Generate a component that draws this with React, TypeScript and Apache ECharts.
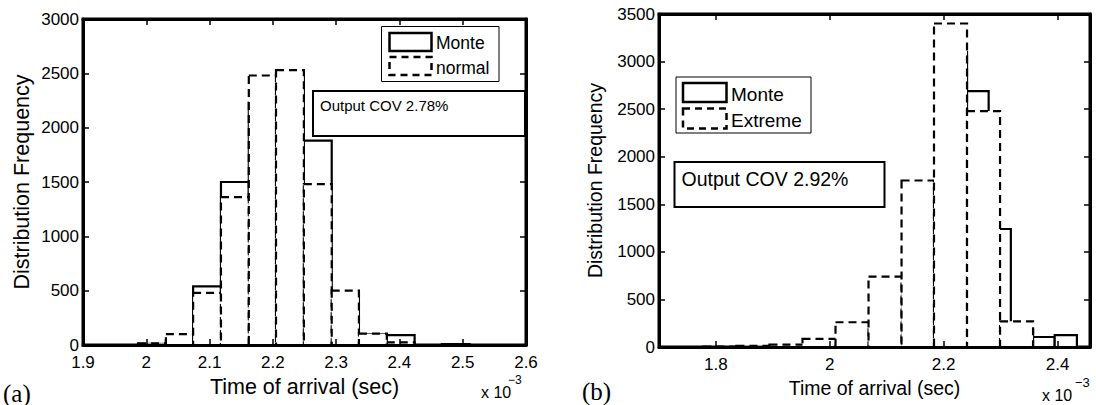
import React, { useEffect, useRef } from "react";
import * as echarts from "echarts";

// ---------- data (time in units of 1e-3 s) ----------
const leftEdges = [1.987, 2.031, 2.074, 2.118, 2.162, 2.205, 2.249, 2.293, 2.336, 2.38, 2.424, 2.467, 2.511];
const leftMonte = [10, 40, 540, 1500, 2230, 2500, 1880, 480, 100, 90, 0, 8];
const leftNormal = [15, 100, 480, 1360, 2480, 2530, 1480, 500, 105, 25, 0, 0];

const rightExtremeEdges = [1.778, 1.836, 1.894, 1.952, 2.01, 2.068, 2.126, 2.183, 2.241, 2.299, 2.357];
const rightExtreme = [5, 12, 25, 85, 260, 740, 1750, 3400, 2480, 270];
const rightMonteEdges = [2.047, 2.086, 2.125, 2.163, 2.202, 2.241, 2.279, 2.318, 2.357, 2.395, 2.434];
const rightMonte = [60, 400, 650, 1650, 3100, 2690, 1240, 180, 105, 125];

const leftXTicks = [1.9, 2, 2.1, 2.2, 2.3, 2.4, 2.5, 2.6];
const rightXTicks = [1.8, 2, 2.2, 2.4];

const FONT = "'Liberation Sans', Arial, Helvetica, sans-serif";
const AXIS_W = 3;

function bins(edges: number[], vals: number[]) {
  return vals.map((v, i) => [edges[i], edges[i + 1], v]);
}

function histSeries(data: number[][], xi: number, yi: number, dashed: boolean, z: number) {
  return {
    type: "custom",
    xAxisIndex: xi,
    yAxisIndex: yi,
    z,
    encode: { x: [0, 1], y: 2 },
    data,
    renderItem: (params: any, api: any) => {
      const p0 = api.coord([api.value(0), 0]);
      const p1 = api.coord([api.value(1), api.value(2)]);
      return {
        type: "rect",
        shape: { x: p0[0], y: p1[1], width: p1[0] - p0[0], height: p0[1] - p1[1] },
        style: {
          fill: "#fff",
          stroke: "#000",
          lineWidth: 2.2,
          lineDash: dashed ? [8, 5] : null,
        },
      };
    },
  };
}

function xAxes(grid: number, min: number, max: number, ticks: number[], name: string, nameSize: number) {
  const fmt = (v: number) => String(Math.round(v * 10) / 10);
  return [
    {
      type: "value", gridIndex: grid, position: "bottom", min, max, z: 10,
      splitLine: { show: false },
      axisLine: { show: true, onZero: false, lineStyle: { color: "#000", width: AXIS_W } },
      axisTick: { show: true, inside: true, length: 6, customValues: ticks, lineStyle: { color: "#000", width: 1.5 } },
      axisLabel: { show: true, customValues: ticks, formatter: fmt, color: "#000", fontSize: 17, fontFamily: FONT, margin: 9 },
      name, nameLocation: "middle", nameGap: 27,
      nameTextStyle: { color: "#000", fontSize: nameSize, fontFamily: FONT },
    },
    {
      type: "value", gridIndex: grid, position: "top", min, max, z: 10,
      splitLine: { show: false },
      axisLine: { show: true, onZero: false, lineStyle: { color: "#000", width: AXIS_W } },
      axisTick: { show: true, inside: true, length: 6, customValues: ticks, lineStyle: { color: "#000", width: 1.5 } },
      axisLabel: { show: false },
    },
  ];
}

function yAxes(grid: number, max: number, name: string, nameGap: number, nameSize: number) {
  return [
    {
      type: "value", gridIndex: grid, position: "left", min: 0, max, interval: 500, z: 10,
      splitLine: { show: false },
      axisLine: { show: true, onZero: false, lineStyle: { color: "#000", width: AXIS_W } },
      axisTick: { show: true, inside: true, length: 6, lineStyle: { color: "#000", width: 1.5 } },
      axisLabel: { color: "#000", fontSize: 17, fontFamily: FONT, margin: 4, formatter: (v: number) => String(v) },
      name, nameLocation: "middle", nameGap,
      nameTextStyle: { color: "#000", fontSize: nameSize, fontFamily: FONT },
    },
    {
      type: "value", gridIndex: grid, position: "right", min: 0, max, interval: 500, z: 10,
      splitLine: { show: false },
      axisLine: { show: true, onZero: false, lineStyle: { color: "#000", width: AXIS_W } },
      axisTick: { show: true, inside: true, length: 6, lineStyle: { color: "#000", width: 1.5 } },
      axisLabel: { show: false },
    },
  ];
}

function txt(x: number, y: number, text: string, size: number, extra: any = {}) {
  return {
    type: "text", x, y, z: 100,
    style: { text, fontSize: size, fontFamily: FONT, fill: "#000", textVerticalAlign: "middle", verticalAlign: "middle", ...extra },
  };
}

function box(x: number, y: number, w: number, h: number, lw: number, dash: number[] | null = null, fill = "#fff") {
  return {
    type: "rect", z: 100,
    shape: { x, y, width: w, height: h },
    style: { fill, stroke: "#000", lineWidth: lw, lineDash: dash },
  };
}

export default function App() {
  const ref = useRef<HTMLDivElement>(null);
  useEffect(() => {
    if (!ref.current) return;
    const chart = echarts.init(ref.current, null, { renderer: "svg" });
    const option: any = {
      animation: false,
      backgroundColor: "#fff",
      grid: [
        { left: 83, top: 19, width: 443, height: 326, show: true, borderColor: "#000", borderWidth: 3, backgroundColor: "#fff" },
        { left: 659, top: 14, width: 431, height: 333, show: true, borderColor: "#000", borderWidth: 3, backgroundColor: "#fff" },
      ],
      xAxis: [
        ...xAxes(0, 1.9, 2.6, leftXTicks, "Time of arrival (sec)", 21.5),
        ...xAxes(1, 1.7, 2.457, rightXTicks, "Time of arrival (sec)", 19.5),
      ],
      yAxis: [
        ...yAxes(0, 3000, "Distribution Frequency", 50, 21.5),
        ...yAxes(1, 3500, "Distribution Frequency", 54, 19.5),
      ],
      series: [
        histSeries(bins(leftEdges, leftMonte), 0, 0, false, 2),
        histSeries(bins(leftEdges, leftNormal), 0, 0, true, 3),
        histSeries(bins(rightMonteEdges, rightMonte), 2, 2, false, 2),
        histSeries(bins(rightExtremeEdges, rightExtreme), 2, 2, true, 3),
      ],
      graphic: [
        // left legend
        box(381.5, 26.5, 117.5, 55, 1),
        box(389.5, 33, 42, 18, 2.5, null, "none"),
        box(389.5, 57, 42, 18, 2.5, [7, 5], "none"),
        txt(436, 42.5, "Monte", 17.5),
        txt(436, 67.5, "normal", 17.5),
        // left COV box
        box(313, 91, 212, 45, 2),
        txt(320, 105, "Output COV 2.78%", 15),
        // right legend
        box(676, 77, 135, 56, 1),
        box(683, 83, 43.5, 19, 2.5, null, "none"),
        box(683, 108.5, 43.5, 20, 2.5, [7, 5], "none"),
        txt(731, 94, "Monte", 19),
        txt(731, 120.5, "Extreme", 19),
        // right COV box
        box(674.5, 162, 210, 45, 2),
        txt(681.5, 178.5, "Output COV 2.92%", 19.5),
        // exponent labels
        txt(481, 392, "x 10", 16),
        txt(508, 380, "\u22123", 12),
        txt(1042, 395, "x 10", 16),
        txt(1075, 382, "\u22123", 13),
        // panel tags
        txt(3, 393, "(a)", 25, { fontFamily: "'Liberation Serif', 'Times New Roman', serif" }),
        txt(582, 391, "(b)", 25, { fontFamily: "'Liberation Serif', 'Times New Roman', serif" }),
      ],
    };
    chart.setOption(option);
    return () => chart.dispose();
  }, []);
  return (
    <div
      ref={ref}
      style={{ position: "absolute", left: 0, top: 0, width: 1096, height: 405, background: "#fff" }}
    />
  );
}
